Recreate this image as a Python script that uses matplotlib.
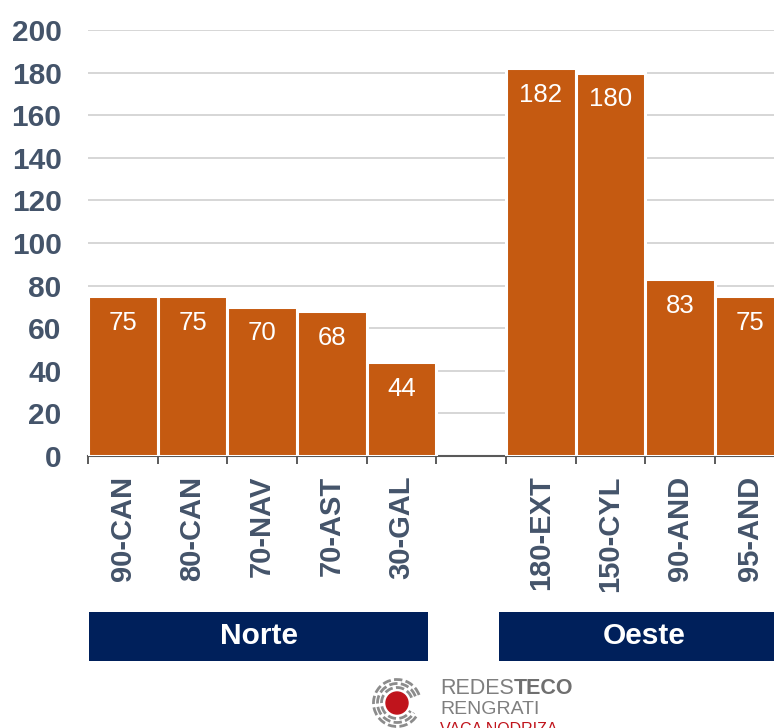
import numpy as np
import matplotlib
matplotlib.use("Agg")
import matplotlib.pyplot as plt
import matplotlib.transforms as mtransforms
from matplotlib.patches import Rectangle, Circle, Arc

plt.rcParams['font.family'] = ['Liberation Sans', 'DejaVu Sans']

# datos del gráfico (hueco vacío entre grupos)
categorias = ["90-CAN", "80-CAN", "70-NAV", "70-AST", "30-GAL", "",
              "180-EXT", "150-CYL", "90-AND", "95-AND"]
valores = [75, 75, 70, 68, 44, np.nan, 182, 180, 83, 75]
grupos = ["Norte", "Oeste"]
ticks_y = [0, 20, 40, 60, 80, 100, 120, 140, 160, 180, 200]

naranja = '#C55A11'
gris_texto = '#44546A'
azul = '#00205B'

fig = plt.figure(figsize=(7.74, 7.28), dpi=100)
ax = fig.add_axes([88 / 774, (728 - 456) / 728, 1 - 88 / 774, 426 / 728])

x = np.arange(len(categorias))
ax.bar(x, valores, width=1.0, color=naranja, edgecolor='white', linewidth=2.2, zorder=3)

# etiquetas de valor en blanco dentro de la barra
for xi, v in zip(x, valores):
    if np.isnan(v):
        continue
    ax.annotate(f"{v:g}", (xi, v), xytext=(0, -19), textcoords='offset points',
                ha='center', va='center', color='white', fontsize=18.5, zorder=4)

ax.set_yticks(ticks_y)
ax.set_yticklabels([str(t) for t in ticks_y], fontsize=21.5, fontweight='bold', color=gris_texto)
ax.tick_params(axis='y', length=0, pad=19)
ax.grid(axis='y', color='#D0D0D0', linewidth=1.2, zorder=0)

ax.set_xticks(x)
ax.set_xticklabels(categorias, rotation=90, fontsize=21, fontweight='bold', color=gris_texto)
ax.tick_params(axis='x', which='major', length=0, pad=14)
ax.set_xticks(np.arange(-0.5, len(categorias), 1.0), minor=True)
ax.tick_params(axis='x', which='minor', length=6, width=1.2, color='#404040', direction='out')

for lado in ['left', 'right', 'top']:
    ax.spines[lado].set_visible(False)
ax.spines['bottom'].set_color('#595959')
ax.spines['bottom'].set_linewidth(1.5)

# cajas de grupo
trans = mtransforms.blended_transform_factory(ax.transData, ax.transAxes)
cajas = [(-0.486, 4.38), (5.40, 9.6)]
centros = [1.95, 7.48]
for nombre, (x0, x1), xc in zip(grupos, cajas, centros):
    ax.add_patch(Rectangle((x0, -0.481), x1 - x0, 0.115, transform=trans,
                           facecolor=azul, edgecolor='none', clip_on=False))
    ax.text(xc, -0.4235, nombre, transform=trans, ha='center', va='center',
            color='white', fontsize=21.5, fontweight='bold')

# límites al final (set_xticks amplía la vista)
ax.set_ylim(0, 200)
ax.set_xlim(-0.5, 9.346)

# logo inferior
lax = fig.add_axes([367 / 774, 0, 60 / 774, 60 / 728])
lax.set_xlim(-30, 30)
lax.set_ylim(-25, 35)
lax.set_aspect('equal')
lax.axis('off')
lax.add_patch(Circle((0, 0), 11, color='#C0141C'))
for r in [15.5, 19.5, 23.5]:
    lax.add_patch(Arc((0, 0), 2 * r, 2 * r, theta1=20, theta2=330, color='#8C8C8C',
                      linewidth=2.0, linestyle=(0, (3, 1.2))))

fam_logo = ['Liberation Sans Narrow', 'Liberation Sans', 'DejaVu Sans']
t_redes = fig.text(440 / 774, 1 - 688 / 728, "REDES", family=fam_logo, fontsize=15.5,
                   color='#7F7F7F', va='center', ha='left')
ax.annotate("TECO", xy=(1, 0.5), xycoords=t_redes, xytext=(0, 0), textcoords='offset points',
            family=fam_logo, fontsize=15.5, color='#6F6F6F', fontweight='bold',
            va='center', ha='left', annotation_clip=False)
fig.text(440 / 774, 1 - 709 / 728, "RENGRATI", family=fam_logo, fontsize=14, color='#7F7F7F',
         va='center', ha='left')
fig.text(440 / 774, 1 - 729 / 728, "VACA NODRIZA", family=fam_logo, fontsize=11.5, color='#C0141C',
         va='center', ha='left')

fig.savefig("out.png", dpi=100)
